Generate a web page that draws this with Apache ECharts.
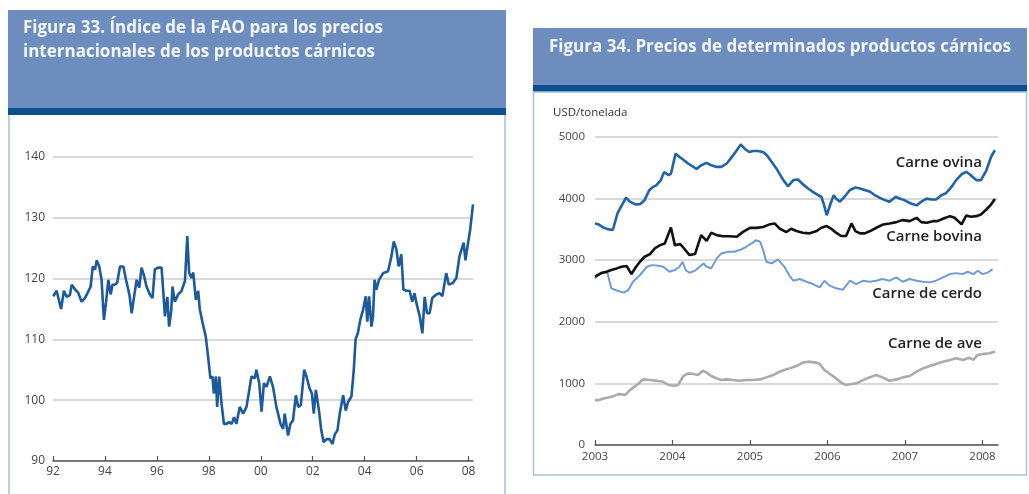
<!DOCTYPE html>
<html><head><meta charset="utf-8">
<script src="https://cdn.jsdelivr.net/npm/echarts@6/dist/echarts.min.js"></script>
<style>html,body{margin:0;padding:0;background:#fff}#c{width:1029px;height:494px}</style>
</head><body><div id="c"></div>
<script>
// ---- Figure 33: FAO meat price index ----
const faoTicks = [1992,1994,1996,1998,2000,2002,2004,2006,2008];
const faoYTicks = [90,100,110,120,130,140];
const fao = [
[1992.01,117.1],[1992.14,118],[1992.31,115],[1992.42,118],[1992.53,117],[1992.65,117.3],[1992.72,119],[1992.85,118.2],[1992.97,117.7],[1993.10,116.2],[1993.23,116.8],[1993.36,117.9],[1993.45,118.7],[1993.53,122],[1993.62,121.5],[1993.68,123],[1993.78,122],[1993.87,119.8],[1993.96,113.2],[1994.04,116],[1994.13,119.8],[1994.22,117.4],[1994.29,119],[1994.38,119],[1994.47,119.3],[1994.58,122],[1994.71,122],[1994.81,119.8],[1994.94,117.4],[1995.03,114.3],[1995.12,117],[1995.22,119.8],[1995.32,118.5],[1995.41,121.8],[1995.51,120.4],[1995.60,118.7],[1995.73,117.4],[1995.83,116.8],[1995.92,121.5],[1996.05,121.8],[1996.18,121.8],[1996.24,118.2],[1996.31,113.8],[1996.40,117],[1996.47,112.1],[1996.55,114.6],[1996.60,118.7],[1996.69,116.2],[1996.82,117.4],[1996.95,118],[1997.08,119.6],[1997.17,127],[1997.24,121],[1997.33,120.1],[1997.40,121],[1997.50,116.5],[1997.59,118],[1997.65,115],[1997.76,112.7],[1997.88,110.5],[1997.97,107.2],[1998.06,103.6],[1998.14,103.9],[1998.19,101.1],[1998.27,103.9],[1998.32,98.9],[1998.40,103.9],[1998.49,99.4],[1998.58,96.1],[1998.68,96.1],[1998.78,96.4],[1998.88,96.1],[1998.97,97.2],[1999.06,96.1],[1999.19,98.9],[1999.32,97.8],[1999.45,98.9],[1999.64,103.9],[1999.77,103.6],[1999.83,105],[1999.94,102.8],[2000.03,98.1],[2000.12,102.8],[2000.22,102.2],[2000.35,103.9],[2000.47,102.2],[2000.60,98.9],[2000.76,96.1],[2000.86,95.3],[2000.92,97.8],[2001.05,94.2],[2001.14,96.1],[2001.24,96.7],[2001.35,100.8],[2001.44,98.9],[2001.54,99.2],[2001.67,105],[2001.76,103.9],[2001.88,101.9],[2001.97,101.1],[2002.04,97.8],[2002.12,101.7],[2002.18,101.9],[2002.24,98.3],[2002.33,95],[2002.42,93.1],[2002.53,93.6],[2002.65,93.6],[2002.76,92.8],[2002.85,94.4],[2002.95,95],[2003.04,97.8],[2003.17,100.8],[2003.27,98.3],[2003.36,99.7],[2003.49,100.6],[2003.58,105],[2003.65,110],[2003.74,111.1],[2003.83,113.2],[2003.94,114.9],[2004.04,117.1],[2004.10,112.9],[2004.17,117.1],[2004.26,112.1],[2004.32,113.8],[2004.38,119.8],[2004.45,118.2],[2004.55,119.8],[2004.71,120.9],[2004.90,121.2],[2005.03,123.7],[2005.12,126.1],[2005.22,124.8],[2005.31,122],[2005.41,124],[2005.49,118.2],[2005.60,118],[2005.73,118],[2005.83,116.2],[2005.92,117.6],[2005.99,116],[2006.12,113.8],[2006.22,111],[2006.31,117],[2006.40,114.3],[2006.50,114.3],[2006.60,116.8],[2006.76,117.4],[2006.88,117.6],[2006.99,117.1],[2007.14,120.9],[2007.24,119],[2007.40,119.3],[2007.53,120.1],[2007.65,123.7],[2007.81,125.9],[2007.88,123],[2007.97,125.6],[2008.06,128],[2008.17,132.2]
];

// ---- Figure 34: selected meat prices (USD/tonelada) ----
const yearTicks = [2003,2004,2005,2006,2007,2008];
const priceYTicks = [0,1000,2000,3000,4000,5000];
const ovina = [
[2003.00,3595],[2003.04,3585],[2003.11,3530],[2003.17,3500],[2003.23,3490],[2003.29,3760],[2003.40,4017],[2003.45,3950],[2003.52,3905],[2003.58,3910],[2003.64,3975],[2003.70,4135],[2003.75,4190],[2003.79,4215],[2003.85,4300],[2003.89,4430],[2003.95,4380],[2003.98,4405],[2004.04,4730],[2004.09,4675],[2004.14,4630],[2004.20,4570],[2004.27,4515],[2004.31,4480],[2004.37,4540],[2004.44,4580],[2004.50,4540],[2004.57,4515],[2004.63,4515],[2004.70,4570],[2004.76,4665],[2004.83,4785],[2004.88,4880],[2004.93,4810],[2004.99,4757],[2005.04,4773],[2005.10,4773],[2005.17,4757],[2005.22,4700],[2005.34,4490],[2005.43,4300],[2005.49,4200],[2005.56,4300],[2005.62,4310],[2005.68,4235],[2005.75,4165],[2005.81,4110],[2005.88,4055],[2005.92,4030],[2005.95,3920],[2005.99,3730],[2006.04,3920],[2006.08,4055],[2006.11,4000],[2006.16,3950],[2006.22,4030],[2006.29,4140],[2006.36,4180],[2006.42,4165],[2006.48,4140],[2006.55,4110],[2006.61,4055],[2006.67,4015],[2006.74,3975],[2006.80,3950],[2006.88,4030],[2006.93,4000],[2006.99,3975],[2007.06,3930],[2007.15,3890],[2007.21,3950],[2007.28,4000],[2007.34,3985],[2007.40,3985],[2007.47,4055],[2007.53,4090],[2007.60,4190],[2007.66,4300],[2007.73,4395],[2007.79,4435],[2007.85,4380],[2007.92,4300],[2007.98,4300],[2008.05,4460],[2008.11,4675],[2008.16,4785]
];
const bovina = [
[2003.00,2732],[2003.02,2760],[2003.09,2797],[2003.15,2813],[2003.21,2840],[2003.28,2867],[2003.34,2894],[2003.41,2905],[2003.47,2775],[2003.53,2894],[2003.58,2975],[2003.64,3056],[2003.71,3100],[2003.77,3190],[2003.84,3245],[2003.90,3272],[2003.98,3531],[2004.03,3245],[2004.10,3261],[2004.15,3190],[2004.22,3083],[2004.29,3100],[2004.37,3407],[2004.44,3315],[2004.50,3445],[2004.57,3407],[2004.65,3390],[2004.74,3390],[2004.83,3380],[2004.91,3460],[2005.00,3525],[2005.08,3525],[2005.17,3540],[2005.26,3585],[2005.32,3595],[2005.38,3515],[2005.47,3457],[2005.53,3511],[2005.60,3473],[2005.68,3446],[2005.77,3436],[2005.86,3473],[2005.92,3527],[2005.99,3554],[2006.06,3500],[2006.11,3446],[2006.18,3392],[2006.24,3392],[2006.31,3597],[2006.36,3473],[2006.42,3436],[2006.48,3436],[2006.55,3473],[2006.63,3527],[2006.72,3581],[2006.80,3597],[2006.89,3618],[2006.97,3651],[2007.06,3634],[2007.15,3688],[2007.21,3618],[2007.28,3608],[2007.36,3634],[2007.42,3634],[2007.49,3672],[2007.58,3715],[2007.64,3688],[2007.73,3581],[2007.79,3726],[2007.85,3704],[2007.92,3715],[2007.98,3742],[2008.05,3823],[2008.11,3903],[2008.16,3995]
];
const cerdo = [
[2003.00,2705],[2003.04,2760],[2003.11,2797],[2003.16,2797],[2003.21,2543],[2003.29,2505],[2003.37,2473],[2003.43,2516],[2003.49,2650],[2003.58,2760],[2003.67,2894],[2003.73,2920],[2003.82,2910],[2003.88,2894],[2003.96,2813],[2004.03,2840],[2004.09,2894],[2004.13,2975],[2004.17,2840],[2004.22,2797],[2004.29,2830],[2004.35,2894],[2004.40,2948],[2004.44,2894],[2004.50,2867],[2004.57,3030],[2004.63,3110],[2004.72,3137],[2004.80,3137],[2004.89,3175],[2004.95,3218],[2005.02,3272],[2005.08,3326],[2005.13,3300],[2005.17,3164],[2005.21,2975],[2005.28,2948],[2005.36,3013],[2005.45,2882],[2005.51,2747],[2005.56,2667],[2005.64,2694],[2005.73,2650],[2005.81,2613],[2005.90,2559],[2005.96,2667],[2006.03,2586],[2006.11,2543],[2006.20,2522],[2006.29,2667],[2006.37,2613],[2006.46,2667],[2006.54,2650],[2006.63,2667],[2006.71,2694],[2006.80,2667],[2006.89,2720],[2006.97,2650],[2007.06,2694],[2007.15,2667],[2007.23,2650],[2007.32,2640],[2007.40,2667],[2007.49,2720],[2007.58,2774],[2007.66,2790],[2007.74,2774],[2007.81,2812],[2007.88,2774],[2007.94,2828],[2008.00,2774],[2008.07,2801],[2008.13,2855]
];
const ave = [
[2003.00,728],[2003.04,728],[2003.11,755],[2003.17,772],[2003.24,793],[2003.30,826],[2003.39,815],[2003.45,891],[2003.54,973],[2003.62,1065],[2003.71,1054],[2003.79,1043],[2003.88,1027],[2003.95,973],[2004.02,962],[2004.07,973],[2004.14,1120],[2004.20,1163],[2004.27,1152],[2004.33,1136],[2004.39,1206],[2004.44,1174],[2004.50,1120],[2004.57,1081],[2004.63,1054],[2004.70,1065],[2004.78,1054],[2004.87,1043],[2004.95,1054],[2005.04,1054],[2005.13,1065],[2005.21,1098],[2005.30,1136],[2005.38,1190],[2005.47,1228],[2005.51,1244],[2005.60,1282],[2005.68,1337],[2005.75,1353],[2005.86,1337],[2005.90,1315],[2005.96,1217],[2006.05,1136],[2006.11,1081],[2006.18,1011],[2006.24,973],[2006.31,989],[2006.37,1000],[2006.46,1054],[2006.54,1098],[2006.63,1136],[2006.71,1098],[2006.80,1043],[2006.89,1065],[2006.97,1098],[2007.06,1120],[2007.15,1190],[2007.23,1244],[2007.32,1282],[2007.40,1315],[2007.49,1353],[2007.58,1380],[2007.66,1407],[2007.75,1380],[2007.83,1418],[2007.88,1380],[2007.94,1462],[2008.00,1478],[2008.09,1489],[2008.16,1516]
];
const seriesNames = ['Carne ovina','Carne bovina','Carne de cerdo','Carne de ave'];

const FONT = '"Open Sans", "DejaVu Sans", sans-serif';
const chart = echarts.init(document.getElementById('c'), null, {renderer:'canvas'});
const headerLight = '#6d8dbf', headerDark = '#0b4f8e', border = '#a3c2dd';
const lblStyle = {fill:'#222', font:'600 15px ' + FONT, textAlign:'right', textVerticalAlign:'middle'};

chart.setOption({
  animation:false,
  backgroundColor:'#fff',
  grid:[
    {left:53, right:556, top:157, bottom:33},
    {left:595, right:31, top:137, bottom:49}
  ],
  xAxis:[
    {gridIndex:0, type:'value', min:1992, max:2008.17,
     axisLine:{lineStyle:{color:'#555', width:1.5}},
     axisTick:{inside:true, length:5, customValues:faoTicks, lineStyle:{color:'#555', width:1.2}},
     axisLabel:{customValues:faoTicks, formatter:v=>String(v).slice(2), color:'#444', fontSize:12, fontFamily:FONT, margin:5},
     splitLine:{show:false}},
    {gridIndex:1, type:'value', min:2003, max:2008.2,
     axisLine:{lineStyle:{color:'#555', width:1.5}},
     axisTick:{inside:true, length:5, customValues:yearTicks, lineStyle:{color:'#555', width:1.2}},
     axisLabel:{customValues:yearTicks, formatter:v=>String(v), color:'#444', fontSize:11.5, fontFamily:FONT, margin:6},
     splitLine:{show:false}}
  ],
  yAxis:[
    {gridIndex:0, type:'value', min:90, max:140, interval:10,
     axisLine:{show:false}, axisTick:{show:false},
     axisLabel:{formatter:v=>String(v), color:'#444', fontSize:12, fontFamily:FONT, margin:8},
     splitLine:{lineStyle:{color:'#cccccc', width:1.5}}},
    {gridIndex:1, type:'value', min:0, max:5000, interval:1000,
     axisLine:{show:false}, axisTick:{show:false},
     axisLabel:{formatter:v=>String(v), color:'#444', fontSize:11.5, fontFamily:FONT, margin:10},
     splitLine:{lineStyle:{color:'#cccccc', width:1.5}}}
  ],
  series:[
    {type:'line', xAxisIndex:0, yAxisIndex:0, data:fao, showSymbol:false, lineStyle:{color:'#1b5a9c', width:2.6}, z:5},
    {type:'line', name:seriesNames[0], xAxisIndex:1, yAxisIndex:1, data:ovina, showSymbol:false, lineStyle:{color:'#1f63a8', width:2.6}, z:5},
    {type:'line', name:seriesNames[1], xAxisIndex:1, yAxisIndex:1, data:bovina, showSymbol:false, lineStyle:{color:'#111', width:2.6}, z:5},
    {type:'line', name:seriesNames[2], xAxisIndex:1, yAxisIndex:1, data:cerdo, showSymbol:false, lineStyle:{color:'#6f9bd6', width:2}, z:4},
    {type:'line', name:seriesNames[3], xAxisIndex:1, yAxisIndex:1, data:ave, showSymbol:false, lineStyle:{color:'#aaaaaa', width:2.6}, z:4}
  ],
  graphic:[
    {type:'rect', shape:{x:8, y:10, width:498, height:98}, style:{fill:headerLight}, z:0},
    {type:'rect', shape:{x:8, y:108, width:498, height:7}, style:{fill:headerDark}, z:0},
    {type:'line', shape:{x1:9, y1:115, x2:9, y2:494}, style:{stroke:border, lineWidth:1.5}},
    {type:'line', shape:{x1:505, y1:115, x2:505, y2:494}, style:{stroke:border, lineWidth:1.5}},
    {type:'text', x:23, y:28, style:{text:'Figura 33. Índice de la FAO para los precios', fill:'#f2f5fa', font:'bold 17px ' + FONT, textVerticalAlign:'middle'}},
    {type:'text', x:23, y:52, style:{text:'internacionales de los productos cárnicos', fill:'#f2f5fa', font:'bold 17px ' + FONT, textVerticalAlign:'middle'}},
    {type:'rect', shape:{x:533, y:28, width:494, height:57}, style:{fill:headerLight}, z:0},
    {type:'rect', shape:{x:533, y:85, width:494, height:7}, style:{fill:headerDark}, z:0},
    {type:'rect', shape:{x:533.5, y:92, width:493, height:383}, style:{fill:'none', stroke:border, lineWidth:1.5}},
    {type:'text', x:549, y:47, style:{text:'Figura 34. Precios de determinados productos cárnicos', fill:'#f2f5fa', font:'bold 17px ' + FONT, textVerticalAlign:'middle'}},
    {type:'text', x:553, y:113, style:{text:'USD/tonelada', fill:'#333', font:'11.5px ' + FONT, textVerticalAlign:'middle'}},
    {type:'text', x:982, y:163, style:Object.assign({text:seriesNames[0]}, lblStyle), z:10},
    {type:'text', x:982, y:237, style:Object.assign({text:seriesNames[1]}, lblStyle), z:10},
    {type:'text', x:982, y:294, style:Object.assign({text:seriesNames[2]}, lblStyle), z:10},
    {type:'text', x:982, y:344, style:Object.assign({text:seriesNames[3]}, lblStyle), z:10}
  ]
});
</script></body></html>
